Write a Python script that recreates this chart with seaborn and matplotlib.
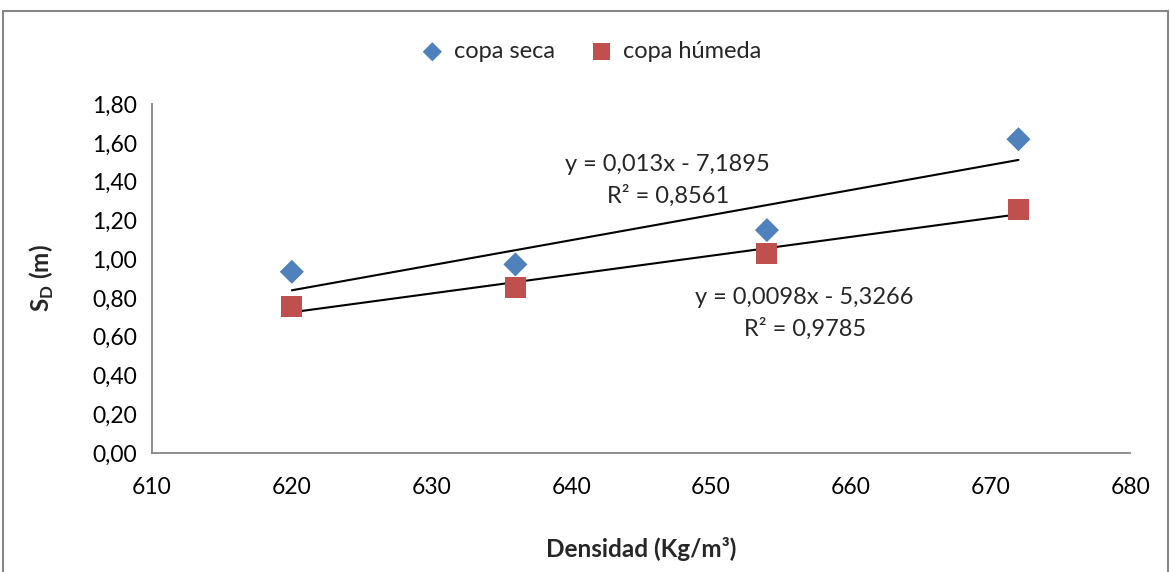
import matplotlib
matplotlib.use("Agg")
import matplotlib.pyplot as plt
import matplotlib.patches as mpatches
from matplotlib.ticker import FuncFormatter
import seaborn as sns
import pandas as pd
import numpy as np

densidad = [620, 636, 654, 672]
copa_seca = [0.935, 0.973, 1.150, 1.619]
copa_humeda = [0.755, 0.853, 1.030, 1.258]
series_names = ["copa seca", "copa húmeda"]
eq_texts = [("y = 0,013x - 7,1895", "R² = 0,8561"),
            ("y = 0,0098x - 5,3266", "R² = 0,9785")]
x_ticks = [610, 620, 630, 640, 650, 660, 670, 680]
y_ticks = [0.0, 0.2, 0.4, 0.6, 0.8, 1.0, 1.2, 1.4, 1.6, 1.8]

sns.set_theme(style="white")
plt.rcParams['font.family'] = ['Lato', 'DejaVu Sans']

df = pd.DataFrame({
    "x": densidad * 2,
    "y": copa_seca + copa_humeda,
    "serie": [series_names[0]] * 4 + [series_names[1]] * 4,
})

fig = plt.figure(figsize=(11.7, 5.72), dpi=100)
ax = fig.add_axes([0.130, 0.208, 0.836, 0.610])

colors = {"copa seca": "#4F81BD", "copa húmeda": "#C0504D"}
markers = {"copa seca": "D", "copa húmeda": "s"}

for name in series_names:
    sns.regplot(data=df[df.serie == name], x="x", y="y", ax=ax, scatter=False,
                ci=None, truncate=True, line_kws={"color": "black", "lw": 1.5})

for name in series_names:
    sub = df[df.serie == name]
    s = 150 if markers[name] == "D" else 230
    ax.scatter(sub.x, sub.y, marker=markers[name], s=s, color=colors[name],
               edgecolor="none", label=name, zorder=3)

ax.set_xlim(610, 680)
ax.set_ylim(0, 1.8)
ax.set_xticks(x_ticks)
ax.set_yticks(y_ticks)
ax.yaxis.set_major_formatter(FuncFormatter(lambda v, p: f"{v:.2f}".replace(".", ",")))
ax.xaxis.set_major_formatter(FuncFormatter(lambda v, p: f"{v:.0f}"))
for sp in ["top", "right"]:
    ax.spines[sp].set_visible(False)
for sp in ["left", "bottom"]:
    ax.spines[sp].set_color("#868686")
    ax.spines[sp].set_linewidth(1.3)
ax.tick_params(axis="both", which="major", direction="out", length=7, width=1.3,
               color="#868686", labelsize=16.5, labelcolor="black", pad=4)
ax.tick_params(axis="x", pad=10)

ax.set_xlabel("Densidad (Kg/m³)", fontsize=17.5, fontweight="bold", va="center")
ax.set_ylabel("S$_{\\mathregular{D}}$ (m)", fontsize=17.5, fontweight="bold")
ax.yaxis.set_label_coords(-0.098, 0.5)
ax.xaxis.set_label_coords(0.5, -0.275)

ax.text(646.9, 1.408, eq_texts[0][0] + "\n" + eq_texts[0][1], ha="center", va="center",
        fontsize=17, linespacing=1.55)
ax.text(656.7, 0.72, eq_texts[1][0] + "\n" + eq_texts[1][1], ha="center", va="center",
        fontsize=17, linespacing=1.55)

fig.legend(loc="center", bbox_to_anchor=(0.5, 0.91), ncol=2, frameon=False,
           fontsize=17, handletextpad=-0.1, columnspacing=1.0, markerscale=0.8)

fig.patches.append(mpatches.Rectangle((3 / 1170, -0.05), 1165 / 1170, 1.05 - 11 / 572,
                                      transform=fig.transFigure, fill=False,
                                      edgecolor="#868686", lw=1.5))

fig.savefig("out.png", dpi=100)
